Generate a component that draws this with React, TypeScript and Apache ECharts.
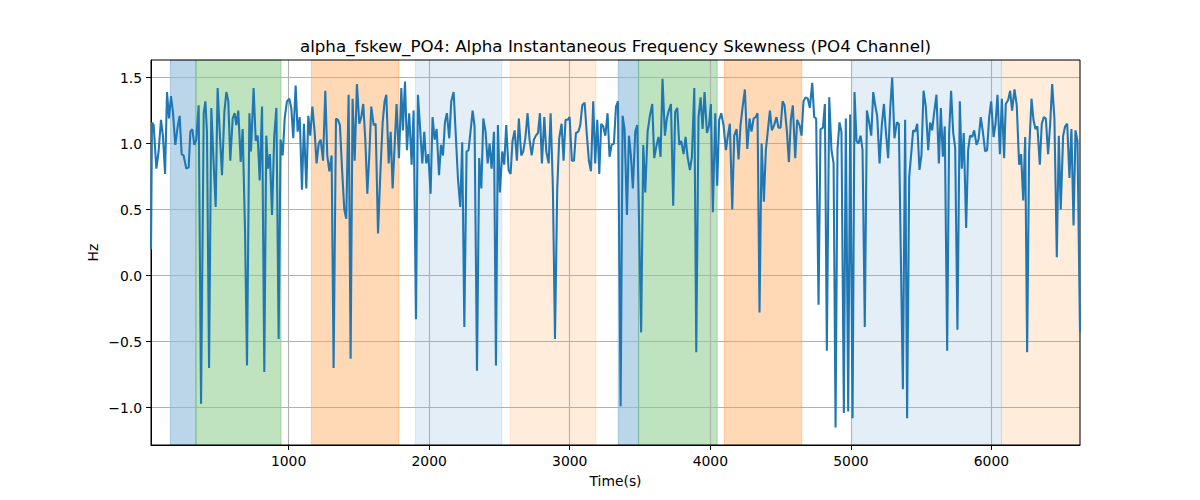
import React, { useEffect, useRef } from "react";
import * as echarts from "echarts";

const TITLE = "alpha_fskew_PO4: Alpha Instantaneous Frequency Skewness (PO4 Channel)";
const X_LABEL = "Time(s)";
const Y_LABEL = "Hz";

const xTicks = [1000, 2000, 3000, 4000, 5000, 6000];
const yTicks = [-1.0, -0.5, 0.0, 0.5, 1.0, 1.5];
const xRange = [21, 6630];
const yRange = [-1.283, 1.633];

const spanStarts = [159, 341, 1162, 1901, 2577, 3345, 3490, 4099, 5014, 6071];
const spanEnds = [341, 946, 1785, 2517, 3186, 3490, 4049, 4651, 6071, 6630];
const spanColors = [
  "rgba(31,119,180,0.3)",
  "rgba(44,160,44,0.3)",
  "rgba(255,127,14,0.3)",
  "rgba(31,119,180,0.12)",
  "rgba(255,127,14,0.15)",
  "rgba(31,119,180,0.3)",
  "rgba(44,160,44,0.3)",
  "rgba(255,127,14,0.3)",
  "rgba(31,119,180,0.12)",
  "rgba(255,127,14,0.15)",
];

const times = [
  21, 28, 40, 59, 75, 92, 106, 121, 135, 149, 163, 177, 194, 211, 225, 239, 253, 272, 289, 301,
  315, 329, 343, 360, 377, 396, 408, 419, 434, 450, 464, 481, 495, 509, 526, 543, 557, 571, 585, 602,
  616, 628, 642, 659, 673, 690, 704, 721, 732, 751, 766, 780, 794, 811, 827, 841,
  853, 867, 882, 898, 913, 929, 943, 958, 972, 988, 1005, 1019, 1033, 1050, 1064, 1079, 1095, 1109, 1126, 1140,
  1154, 1169, 1185, 1199, 1214, 1228, 1245, 1261, 1275, 1290, 1306, 1320, 1337, 1351, 1365, 1380, 1396, 1410, 1427, 1441,
  1455, 1470, 1486, 1503, 1517, 1531, 1546, 1560, 1574, 1588, 1605, 1619, 1636, 1652, 1669, 1683, 1695, 1712, 1726, 1740,
  1768, 1785, 1802, 1813, 1828, 1842, 1858, 1875, 1889, 1906, 1920, 1934, 1951, 1965, 1979, 1994, 2010, 2024, 2039, 2053,
  2070, 2084, 2098, 2112, 2126, 2143, 2157, 2174, 2188, 2205, 2221, 2235, 2250, 2266, 2280, 2295, 2309, 2323, 2340, 2356,
  2371, 2385, 2401, 2416, 2430, 2444, 2461, 2475, 2489, 2503, 2520, 2534, 2548, 2565, 2579, 2593, 2608, 2624, 2638,
  2655, 2669, 2684, 2700, 2714, 2729, 2745, 2759, 2774, 2788, 2802, 2819, 2833, 2850, 2864, 2880, 2895, 2911, 2925, 2942,
  2956, 2970, 2985, 2999, 3015, 3030, 3044, 3061, 3075, 3089, 3106, 3120, 3136, 3151, 3167, 3181, 3196, 3210, 3224, 3238,
  3253, 3269, 3283, 3298, 3314, 3329, 3343, 3362, 3376, 3390, 3407, 3421, 3435, 3449, 3466, 3480,
  3508, 3523, 3537, 3554, 3570, 3587, 3601, 3618, 3632, 3646, 3660, 3677, 3691, 3705, 3720, 3736, 3750, 3765, 3779, 3793,
  3810, 3824, 3838, 3855, 3869, 3886, 3900, 3916, 3931, 3945, 3959, 3976, 3990, 4004, 4018, 4035, 4049, 4063, 4078, 4094,
  4111, 4125, 4139, 4156, 4170, 4187, 4201, 4215, 4229, 4246, 4263, 4279, 4293, 4308, 4322, 4336, 4350, 4365, 4381, 4395,
  4424, 4438, 4454, 4471, 4485, 4500, 4514, 4528, 4545, 4559, 4573, 4587, 4604, 4618, 4635, 4649, 4663, 4677, 4694, 4708,
  4725, 4739, 4753, 4770, 4784, 4801, 4815, 4829, 4846, 4862, 4877, 4891, 4905, 4919, 4933, 4950, 4964, 4981, 4995, 5012,
  5026, 5040, 5054, 5069, 5083, 5099, 5114, 5130, 5145, 5159, 5173, 5187, 5204, 5220, 5235, 5249, 5265, 5280, 5294, 5310,
  5327, 5341, 5370, 5386, 5400, 5415, 5429, 5443, 5457, 5472, 5488, 5502, 5517, 5533, 5550, 5564, 5578, 5592, 5609, 5626,
  5640, 5654, 5668, 5685, 5699, 5713, 5728, 5742, 5758, 5775, 5789, 5803, 5820, 5834, 5848, 5863, 5877, 5894, 5908, 5924,
  5939, 5955, 5969, 5984, 5998, 6015, 6029, 6043, 6060, 6074, 6090, 6102, 6119, 6133, 6147, 6164, 6180, 6197, 6211, 6226,
  6240, 6254, 6268, 6285, 6299, 6313, 6327, 6344, 6358, 6373, 6387, 6403, 6418, 6432, 6448, 6465, 6479, 6493, 6510, 6524,
  6539, 6555, 6569, 6584, 6598, 6612, 6630,
];

const values = [
  0.2, 1.16, 1.14, 0.81, 0.94, 1.18, 1.06, 0.77, 1.39, 1.19, 1.36, 1.24, 0.99, 1.13, 1.21, 0.92, 0.91, 0.81, 0.82, 1.09,
  1.11, 0.99, 1.03, 1.29, -0.97, 1.23, 1.32, 1.09, -0.7, 1.27, 0.91, 0.52, 1.42, 1.11, 0.76, 1.24, 1.39, 1.32, 0.87, 1.19,
  1.23, 1.14, 1.25, 0.86, 1.11, 0.33, -0.68, 1.23, 0.94, 1.42, 1.02, 1.06, 0.72, 1.28, -0.73, 1.06,
  0.81, 0.92, 0.46, 1.06, 1.27, -0.48, 1.03, 0.91, 1.19, 1.32, 1.34, 1.27, 1.04, 1.44, 1.09, 1.2, 0.65, 1.15, 0.66, 1.21,
  1.06, 1.28, 1.09, 0.85, 1.0, 1.03, 0.87, 1.4, 0.91, 0.79, 0.91, -0.7, 1.19, 1.18, 1.14, 0.81, 0.5, 0.43, 1.37, -0.63,
  1.34, 0.87, 1.45, 1.15, 1.2, 1.3, 1.02, 0.62, 0.91, 1.28, 1.14, 1.15, 0.32, 0.76, 1.16, 1.32, 1.37, 0.85, 1.09, 0.66,
  1.3, 0.89, 1.42, 1.1, 1.47, 0.95, 1.23, 0.84, 1.25, -0.33, 1.37, 1.14, 0.85, 1.09, 0.85, 0.92, 0.62, 1.2, 1.03, 1.11,
  0.76, 0.99, 0.91, 1.16, 1.23, 1.04, 1.32, 1.39, 1.09, 0.73, 0.52, 1.01, -0.39, 0.94, 0.95, 1.1, 1.25, 1.13, -0.72, 0.89,
  0.66, 1.19, 1.09, 0.85, 1.0, 0.81, 1.09, -0.68, 1.14, 0.63, 0.94, 0.84, 1.14, 0.8, 0.77, 1.02, 1.1, 0.87, 1.19,
  0.91, 0.94, 1.04, 1.23, 1.03, 0.91, 1.03, 1.06, 1.08, 1.23, 0.85, 1.2, 0.94, 0.85, 1.23, 0.67, -0.48, 0.66, 1.04, 1.15,
  0.87, 1.18, 1.18, 1.2, 0.87, 0.87, 1.08, 1.09, 1.14, 1.29, 1.31, 1.09, 0.87, 0.79, 1.32, 0.85, 1.18, 0.77, 1.15, 1.13,
  1.06, 1.23, 0.9, 0.99, 1.0, 1.28, 1.32, -0.99, 1.21, 1.11, 0.46, 1.06, 0.91, 0.66, 1.09, 1.14,
  -0.43, 0.99, 0.63, 1.09, 1.21, 1.3, 0.89, 0.99, 1.05, 0.9, 1.49, 1.06, 1.19, 1.25, 1.3, 0.53, 1.24, 1.27, 0.99, 1.02,
  0.92, 1.05, 0.9, 0.8, 0.9, 1.42, -0.58, 1.2, 1.35, 1.11, 1.39, 1.08, 1.13, 1.3, 0.48, 1.23, 0.68, 1.18, 1.23, 1.14,
  0.95, 1.06, 1.15, 0.5, 1.06, 1.11, 0.88, 1.14, 1.27, 1.41, 0.96, 1.19, 1.09, 1.19, 1.2, 1.23, -0.28, 1.0, 0.56, 0.95,
  1.25, 1.1, 1.14, 1.2, 1.12, 1.12, 1.32, 1.29, 1.09, 0.86, 1.18, 1.29, 0.89, 1.18, 1.14, 1.06, 1.32, 1.35, 1.34, 1.27,
  1.46, 1.2, 1.19, -0.22, 1.11, 1.12, 1.3, -0.57, 1.35, 0.95, 0.85, -1.15, 0.96, 1.16, 1.09, -1.04, 1.19, -1.03, 1.22, -1.08,
  1.39, 1.02, 1.0, 1.06, 0.95, -0.39, 1.25, 1.16, 1.06, 1.39, 1.29, 1.21, 0.85, 1.14, 1.3, 1.09, 0.89, 1.27, 1.5, 1.04,
  1.16, 1.15, -0.86, 1.18, -1.08, 0.75, 0.92, 1.1, 1.09, 1.15, 0.8, 0.91, 1.4, 1.28, 0.95, 1.16, 1.1, 1.23, 1.37, 0.85,
  1.27, 0.9, 1.13, -0.57, 1.08, 1.4, 1.08, 0.97, -0.41, 1.32, 0.81, 1.08, 0.36, 0.95, 1.06, 1.05, 1.1, 0.99, 1.03, 1.2,
  1.09, 0.94, 0.95, 1.2, 1.32, 1.05, 1.15, 1.37, 0.92, 1.34, 0.89, 1.3, 1.33, 1.4, 1.25, 1.41, 1.29, 0.84, 0.92, 0.57,
  1.05, -0.58, 0.94, 1.34, 1.18, 1.11, 1.13, 0.84, 1.15, 1.2, 1.19, 0.92, 1.15, 1.45, 1.19, 0.14, 1.06, 0.5, 1.06, 1.13,
  1.15, 0.74, 1.11, 0.38, 1.1, 1.02, -0.43,
];

const FONT = "DejaVu Sans";
const fmt = (v: number) => v.toFixed(1).replace("-", "\u2212");

export default function App() {
  const ref = useRef<HTMLDivElement>(null);

  useEffect(() => {
    if (!ref.current) return;
    const chart = echarts.init(ref.current, null, { renderer: "svg" });
    const data = times.map((t, i) => [t, values[i]]);
    const areas = spanStarts.map((s, i) => [
      { xAxis: s, itemStyle: { color: spanColors[i], borderColor: spanColors[i], borderWidth: 1 } },
      { xAxis: spanEnds[i] },
    ]);
    const axisCommon = {
      z: 1.5,
      axisLine: { show: true, onZero: false, lineStyle: { color: "#000", width: 1 } },
      axisTick: { show: true, inside: false, length: 4.9, lineStyle: { color: "#000", width: 1 } },
      splitLine: { show: true, lineStyle: { color: "#b0b0b0", width: 1.1 } },
    };
    chart.setOption({
      animation: false,
      backgroundColor: "#ffffff",
      grid: {
        left: 151,
        right: 120,
        top: 60,
        bottom: 55,
        show: true,
        z: 1.6,
        borderColor: "#000",
        borderWidth: 1,
        backgroundColor: "transparent",
        containLabel: false,
        outerBoundsMode: "none",
      },
      xAxis: {
        type: "value",
        min: xRange[0],
        max: xRange[1],
        ...axisCommon,
        axisTick: { ...axisCommon.axisTick, customValues: xTicks },
        axisLabel: {
          customValues: xTicks,
          margin: 9,
          color: "#000",
          fontFamily: FONT,
          fontSize: 13.9,
          formatter: (v: number) => String(Math.round(v)),
        },
      },
      yAxis: {
        type: "value",
        min: yRange[0],
        max: yRange[1],
        ...axisCommon,
        axisTick: { ...axisCommon.axisTick, customValues: yTicks },
        axisLabel: {
          customValues: yTicks,
          margin: 9,
          color: "#000",
          fontFamily: FONT,
          fontSize: 13.9,
          formatter: (v: number) => fmt(v),
        },
      },
      graphic: [
        {
          type: "text",
          x: 615.5,
          y: 46,
          style: {
            text: TITLE,
            fill: "#000",
            font: `16.7px "${FONT}"`,
            align: "center",
            verticalAlign: "middle",
          },
        },
        {
          type: "text",
          x: 615.5,
          y: 481,
          style: {
            text: X_LABEL,
            fill: "#000",
            font: `13.9px "${FONT}"`,
            align: "center",
            verticalAlign: "middle",
          },
        },
        {
          type: "text",
          x: 93,
          y: 252.5,
          rotation: Math.PI / 2,
          style: {
            text: Y_LABEL,
            fill: "#000",
            font: `13.9px "${FONT}"`,
            align: "center",
            verticalAlign: "middle",
          },
        },
      ],
      series: [
        {
          type: "line",
          data,
          z: 2,
          showSymbol: false,
          symbol: "none",
          clip: true,
          lineStyle: { color: "#1f77b4", width: 2.08 },
          markArea: {
            silent: true,
            label: { show: false },
            data: areas,
          },
        },
      ],
    });
    return () => chart.dispose();
  }, []);

  return (
    <div
      ref={ref}
      style={{ position: "fixed", left: 0, top: 0, width: 1200, height: 500 }}
    />
  );
}
